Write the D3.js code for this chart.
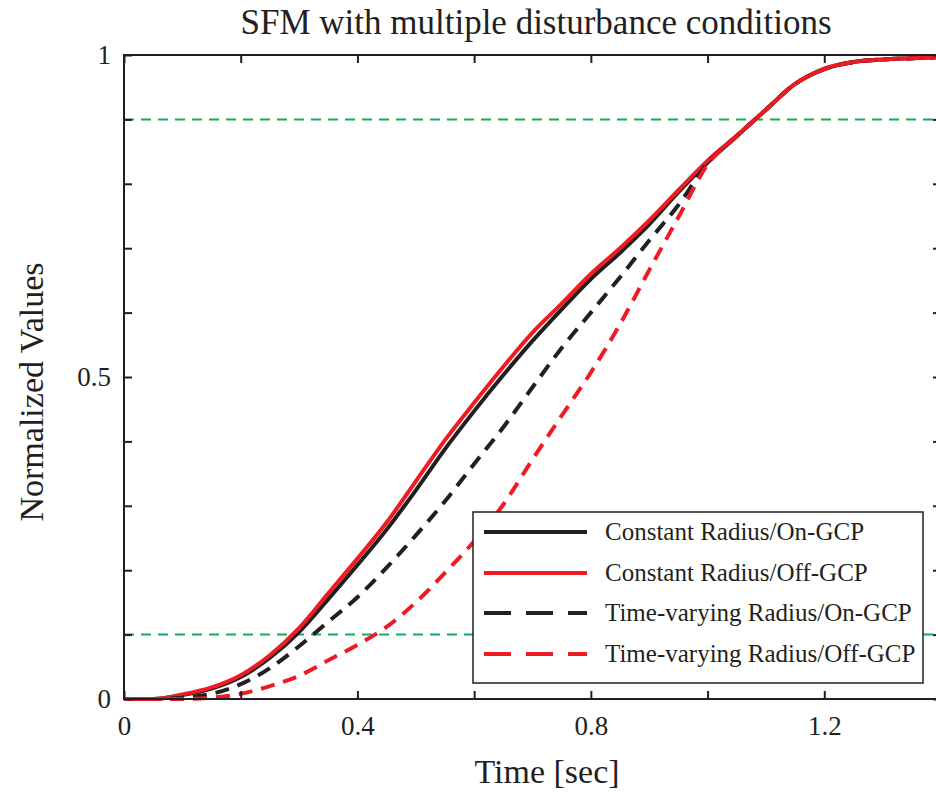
<!DOCTYPE html>
<html>
<head>
<meta charset="utf-8">
<script src="https://cdn.jsdelivr.net/npm/d3@7"></script>
<style>
  body { margin: 0; background: #fff; }
  svg { display: block; font-family: "Liberation Serif", "Times New Roman", serif; }
</style>
</head>
<body>
<svg width="936" height="792"></svg>
<script>
// time grid (sec)
let times = [0, 0.05, 0.1, 0.15, 0.2, 0.25, 0.3, 0.35, 0.4, 0.45, 0.5, 0.55, 0.6, 0.65, 0.7,
             0.75, 0.8, 0.85, 0.9, 0.95, 1.0, 1.05, 1.1, 1.15, 1.2, 1.25, 1.3, 1.35, 1.4];

let constOn  = [0, 0, 0.006, 0.016, 0.034, 0.064, 0.104, 0.155, 0.208, 0.263, 0.324, 0.388, 0.447, 0.503, 0.556,
                0.605, 0.652, 0.693, 0.737, 0.787, 0.833, 0.874, 0.915, 0.955, 0.978, 0.989, 0.993, 0.995, 0.997];
let constOff = [0, 0, 0.007, 0.018, 0.037, 0.068, 0.110, 0.164, 0.218, 0.274, 0.338, 0.402, 0.460, 0.516, 0.569,
                0.614, 0.660, 0.700, 0.743, 0.790, 0.836, 0.875, 0.915, 0.955, 0.979, 0.989, 0.993, 0.995, 0.997];
let varyOn   = [0, 0, 0.002, 0.008, 0.023, 0.048, 0.082, 0.120, 0.158, 0.204, 0.254, 0.307, 0.365, 0.422, 0.484,
                0.545, 0.600, 0.655, 0.712, 0.767, 0.832, 0.874, 0.915, 0.955, 0.978, 0.989, 0.993, 0.995, 0.997];
let varyOff  = [0, 0, 0, 0.002, 0.008, 0.020, 0.036, 0.060, 0.084, 0.112, 0.150, 0.196, 0.245, 0.302, 0.372,
                0.440, 0.507, 0.582, 0.666, 0.748, 0.830, 0.874, 0.915, 0.955, 0.978, 0.989, 0.993, 0.995, 0.997];

let seriesNames = ["Constant Radius/On-GCP", "Constant Radius/Off-GCP",
                   "Time-varying Radius/On-GCP", "Time-varying Radius/Off-GCP"];
let thresholds = [0.1, 0.9];
let xLabelTicks = [0, 0.4, 0.8, 1.2];
let yLabelTicks = [0, 0.5, 1];

let svg = d3.select("svg");
let plotLeft = 124, plotRight = 941, plotTop = 55, plotBottom = 699;

let x = d3.scaleLinear().domain([0, 1.4]).range([plotLeft, plotRight]);
let y = d3.scaleLinear().domain([0, 1]).range([plotBottom, plotTop]);

let black = "#231f20", red = "#ed1c24", green = "#1aaa55";

// threshold lines
svg.append("g").selectAll("line")
  .data(thresholds)
  .enter().append("line")
    .attr("x1", x(0)).attr("x2", x(1.4))
    .attr("y1", function(d) { return y(d); })
    .attr("y2", function(d) { return y(d); })
    .attr("stroke", green)
    .attr("stroke-width", 2)
    .attr("stroke-dasharray", "10,7");

let styles = [
  {color: black, dash: null},
  {color: red, dash: null},
  {color: black, dash: "14,9"},
  {color: red, dash: "14,9"}
];
let allSeries = [constOn, constOff, varyOn, varyOff];

let line = d3.line()
    .x(function(d, i) { return x(times[i]); })
    .y(function(d) { return y(d); })
    .curve(d3.curveMonotoneX);

svg.append("g").selectAll("path")
  .data(allSeries)
  .enter().append("path")
    .attr("d", line)
    .attr("fill", "none")
    .attr("stroke", function(d, i) { return styles[i].color; })
    .attr("stroke-width", 4)
    .attr("stroke-dasharray", function(d, i) { return styles[i].dash; });

// axes box with inward ticks
function styleAxis(g) {
  g.select(".domain").remove();
  g.selectAll(".tick line").attr("stroke", black).attr("stroke-width", 2);
  g.selectAll(".tick text").attr("fill", black).style("font-size", "27px")
    .style("font-family", "Liberation Serif, serif");
}
function pickLabel(list) {
  return function(d) {
    return list.some(function(v) { return Math.abs(v - d) < 1e-6; }) ? String(+d.toFixed(1)) : "";
  };
}
let xTicks = d3.range(0, 1.41, 0.2);
let yTicks = d3.range(0, 1.01, 0.1);

svg.append("g").attr("transform", "translate(0," + plotBottom + ")")
  .call(d3.axisBottom(x).tickValues(xTicks).tickSize(-8).tickPadding(17).tickFormat(pickLabel(xLabelTicks)))
  .call(styleAxis);
svg.append("g").attr("transform", "translate(0," + plotTop + ")")
  .call(d3.axisTop(x).tickValues(xTicks).tickSize(-8).tickFormat(""))
  .call(styleAxis);
svg.append("g").attr("transform", "translate(" + plotLeft + ",0)")
  .call(d3.axisLeft(y).tickValues(yTicks).tickSize(-8).tickPadding(13).tickFormat(pickLabel(yLabelTicks)))
  .call(styleAxis);
svg.append("g").attr("transform", "translate(" + plotRight + ",0)")
  .call(d3.axisRight(y).tickValues(yTicks).tickSize(-8).tickFormat(""))
  .call(styleAxis);

svg.append("rect")
  .attr("x", plotLeft).attr("y", plotTop)
  .attr("width", plotRight - plotLeft).attr("height", plotBottom - plotTop)
  .attr("fill", "none").attr("stroke", black).attr("stroke-width", 2);

// title and labels
svg.append("text")
  .attr("x", 536).attr("y", 34)
  .attr("text-anchor", "middle")
  .style("font-size", "35px").attr("fill", black)
  .text("SFM with multiple disturbance conditions");

svg.append("text")
  .attr("x", 547).attr("y", 783)
  .attr("text-anchor", "middle")
  .style("font-size", "34px").attr("fill", black)
  .text("Time [sec]");

svg.append("text")
  .attr("transform", "translate(43,392) rotate(-90)")
  .attr("text-anchor", "middle")
  .style("font-size", "34px").attr("fill", black)
  .text("Normalized Values");

// legend
let legend = svg.append("g").attr("transform", "translate(473,512)");
legend.append("rect")
  .attr("width", 450).attr("height", 171)
  .attr("fill", "#fff").attr("stroke", black).attr("stroke-width", 1.5);

let rowY = [20, 61, 101, 142];
let legendDash = [null, null, "27,15", "27,15"];
let items = legend.selectAll(".item")
  .data(seriesNames)
  .enter().append("g")
    .attr("class", "item")
    .attr("transform", function(d, i) { return "translate(0," + rowY[i] + ")"; });

items.append("line")
  .attr("x1", 11).attr("x2", 114)
  .attr("stroke", function(d, i) { return styles[i].color; })
  .attr("stroke-width", 4)
  .attr("stroke-dasharray", function(d, i) { return legendDash[i]; });

items.append("text")
  .attr("x", 132).attr("dy", "0.33em")
  .style("font-size", "25px").attr("fill", black)
  .text(function(d) { return d; });
</script>
</body>
</html>
